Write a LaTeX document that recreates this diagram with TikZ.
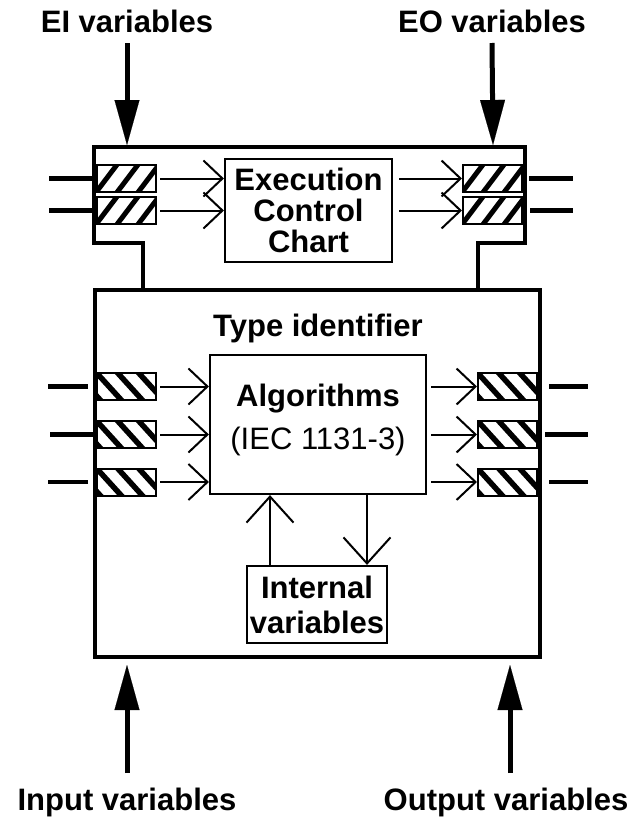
\documentclass[tikz,border=0pt]{standalone}
\usepackage{fontspec}
\setmainfont{Liberation Sans}
\usetikzlibrary{arrows.meta}
\begin{document}
\begin{tikzpicture}[x=1pt,y=-1pt,
  border/.style={line width=4pt, line join=miter},
  lbl/.style={font=\bfseries\fontsize{31}{31}\selectfont, inner sep=0pt},
  plainbox/.style={draw, line width=2.2pt, inner sep=0pt},
  evport/.style={draw, line width=2pt, minimum width=59pt, minimum height=27pt, inner sep=0pt,
    path picture={\foreach \k in {0,...,5}
      \draw[line width=5pt] ([xshift=\k*21pt-24pt, yshift=-3pt]path picture bounding box.south west) -- ++(25pt,33pt);}},
  dataport/.style={draw, line width=2pt, minimum width=59pt, minimum height=27pt, inner sep=0pt,
    path picture={\foreach \k in {0,...,5}
      \draw[line width=5.5pt] ([xshift=\k*21pt-24pt, yshift=3pt]path picture bounding box.north west) -- ++(30pt,-33pt);}},
  stub/.style={line width=4.5pt},
  flow/.style={line width=2pt, -{Straight Barb[length=19pt,width=36pt]}},
  flowbig/.style={line width=2pt, -{Straight Barb[length=26pt,width=47pt]}},
  bigarrow/.style={line width=5pt, -{Triangle[length=45pt,width=25pt,line width=0.1pt]}}
]
\useasboundingbox (0,0) rectangle (638,822);

% function block head (event part)
\draw[border] (143,290) -- (143,243) -- (94,243) -- (94,147) -- (525,147)
  -- (525,243) -- (478,243) -- (478,290);

% function block body
\node[draw, border, minimum width=445pt, minimum height=367pt, inner sep=0pt] (body) at (317.5,473.5) {};

% event ports and execution control chart
\node[evport] (ei1) at (126.5,178.5) {};
\node[evport] (ei2) at (126.5,210.5) {};
\node[evport] (eo1) at (492.5,178.5) {};
\node[evport] (eo2) at (492.5,210.5) {};
\node[plainbox, lbl, align=center, minimum width=167pt, minimum height=103pt] (ecc) at (308.5,210.5)
  {Execution\\Control\\Chart};

% data ports, algorithms and internal variables
\node[dataport] (di1) at (126.5,386.5) {};
\node[dataport] (di2) at (126.5,434.5) {};
\node[dataport] (di3) at (126.5,482) {};
\node[dataport] (do1) at (507.5,386.5) {};
\node[dataport] (do2) at (507.5,434.5) {};
\node[dataport] (do3) at (507.5,482) {};

\node[lbl, anchor=base] (tid) at (318,336) {Type identifier};
\node[plainbox, minimum width=216pt, minimum height=139pt] (algo) at (318,424.5) {};
\node[inner sep=0pt, align=center, font=\fontsize{31}{43}\selectfont] (algotext) at (318,419.5)
  {\textbf{Algorithms}\\(IEC 1131-3)};
\node[plainbox, lbl, font=\bfseries\fontsize{31}{35}\selectfont, align=center,
  minimum width=140pt, minimum height=77pt] (intv) at (317,604.5) {Internal\\variables};

% outer connections
\draw[stub] ([xshift=-4pt]ei1.west) -- ++(-43pt,0pt);
\draw[stub] ([xshift=-4pt]ei2.west) -- ++(-43pt,0pt);
\draw[stub] ([xshift=6pt]eo1.east) -- ++(44pt,0pt);
\draw[stub] ([xshift=7pt]eo2.east) -- ++(43pt,0pt);
\draw[stub] ([xshift=-8pt]di1.west) -- ++(-40pt,0pt);
\draw[stub] ([xshift=-1pt]di2.west) -- ++(-45pt,0pt);
\draw[stub] ([xshift=-8pt]di3.west) -- ++(-40pt,0pt);
\draw[stub] ([xshift=11pt]do1.east) -- ++(39pt,0pt);
\draw[stub] ([xshift=7pt]do2.east) -- ++(43pt,0pt);
\draw[stub] ([xshift=11pt]do3.east) -- ++(39pt,0pt);

% internal flows
\draw[flow] ([xshift=3pt]ei1.east) -- (ecc.west |- ei1.east);
\draw[flow] ([xshift=3pt]ei2.east) -- (ecc.west |- ei2.east);
\draw[flow] ([xshift=6pt]ecc.east |- eo1.west) -- (eo1.west);
\draw[flow] ([xshift=6pt]ecc.east |- eo2.west) -- (eo2.west);
\draw[flow] ([xshift=3pt]di1.east) -- (algo.west |- di1.east);
\draw[flow] ([xshift=3pt]di2.east) -- (algo.west |- di2.east);
\draw[flow] ([xshift=3pt]di3.east) -- (algo.west |- di3.east);
\draw[flow] ([xshift=4pt]algo.east |- do1.west) -- (do1.west);
\draw[flow] ([xshift=4pt]algo.east |- do2.west) -- (do2.west);
\draw[flow] ([xshift=4pt]algo.east |- do3.west) -- (do3.west);
\draw[flowbig] ([xshift=-47pt]intv.north) -- ([xshift=-48pt]algo.south);
\draw[flowbig] ([xshift=49pt]algo.south) -- ([xshift=50pt]intv.north);

% interface variables
\node[lbl, anchor=base] (eil) at (127,32) {EI variables};
\node[lbl, anchor=base] (eol) at (492,32) {EO variables};
\node[lbl, anchor=base] (inl) at (127,810) {Input variables};
\node[lbl, anchor=base] (outl) at (506,810) {Output variables};
\coordinate (eitip) at (127,145);
\coordinate (eotip) at (493,145);
\draw[bigarrow] ([yshift=-11pt]eil.base) -- (eitip);
\draw[bigarrow] ([yshift=-11pt]eol.base |- eil.base) -- (eotip);
\draw[bigarrow] ([yshift=37pt]inl.base) -- ([yshift=-6pt]body.south -| inl.base);
\draw[bigarrow] ([yshift=37pt]outl.base -| 510,0) -- ([yshift=-6pt]body.south -| 510,0);
\end{tikzpicture}
\end{document}
